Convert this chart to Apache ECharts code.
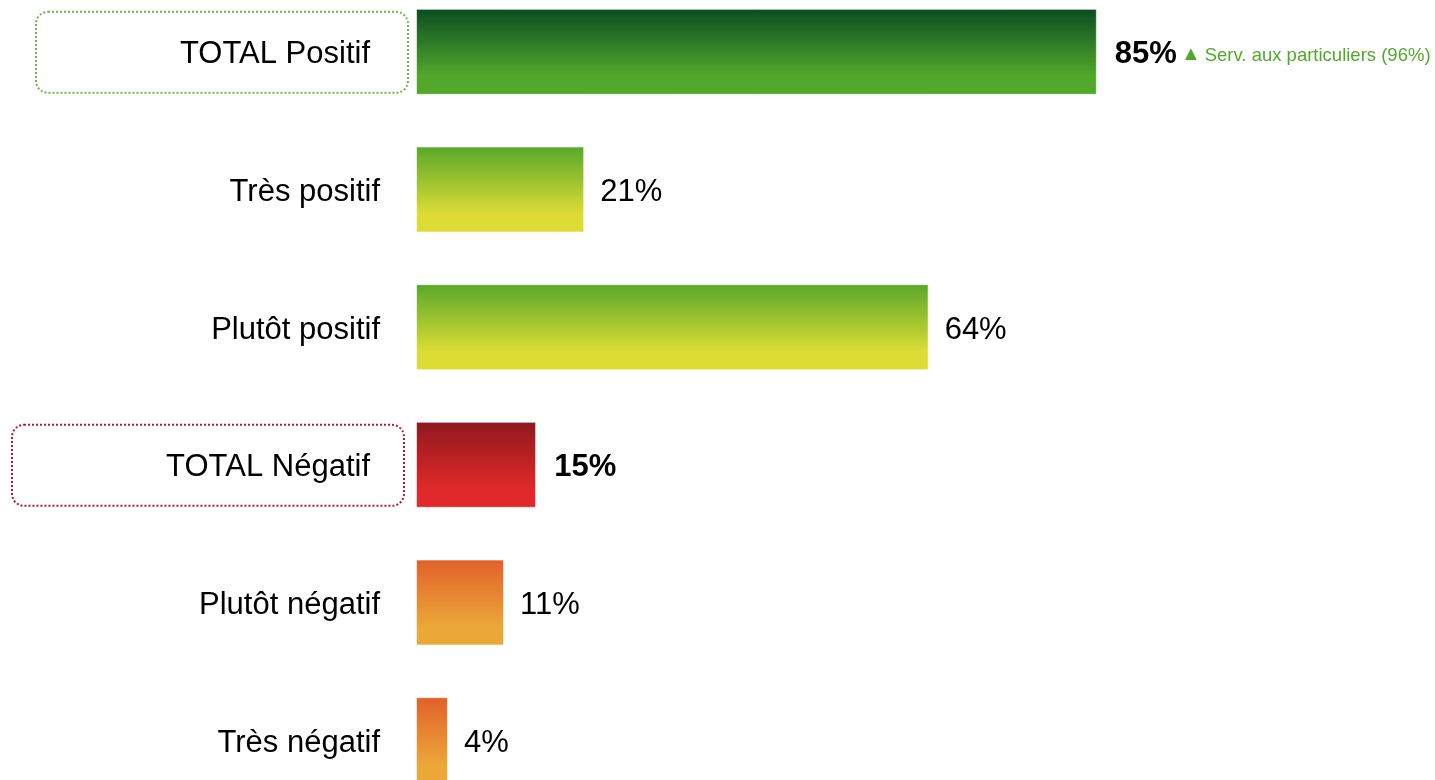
<!DOCTYPE html>
<html><head><meta charset="utf-8">
<script src="https://cdn.jsdelivr.net/npm/echarts@6/dist/echarts.min.js"></script>
<style>html,body{margin:0;padding:0;background:#fff}#c{width:1435px;height:780px}</style>
</head><body><div id="c"></div>
<script>
const categories = ['TOTAL Positif','Très positif','Plutôt positif','TOTAL Négatif','Plutôt négatif','Très négatif'];
const values = [85, 21, 64, 15, 11, 4];
const isTotal = [true, false, false, true, false, false];
const notes = ['Serv. aux particuliers (96%)', '', '', '', '', ''];
const gradients = [
  ['#0a4d22', '#52a82a'],
  ['#58a82a', '#dcdc35'],
  ['#58a82a', '#dcdc35'],
  ['#8e191d', '#e0292a'],
  ['#e2602a', '#eba738'],
  ['#e2602a', '#eba738']
];
const boxColors = ['#6dbb45', null, null, '#b01a35', null, null];

const chart = echarts.init(document.getElementById('c'));
const FONT = '"Liberation Sans", Arial, sans-serif';
const FS = 31;
chart.setOption({
  animation: false,
  grid: { left: 416, top: -17, width: 801, height: 826, containLabel: false, outerBoundsMode: 'none' },
  xAxis: { type: 'value', min: 0, max: 100, show: false },
  yAxis: {
    type: 'category', data: categories, inverse: true,
    axisLine: { show: false }, axisTick: { show: false },
    axisLabel: {
      margin: 36, fontFamily: FONT, fontSize: FS, color: '#000', padding: [6, 0, 0, 0],
      formatter: (v, i) => isTotal[i] ? '{t|' + v + '}' : v,
      rich: { t: { fontFamily: FONT, fontSize: FS, color: '#000', padding: [0, 10, 0, 0] } }
    }
  },
  series: [{
    type: 'bar', barWidth: 86,
    data: values.map((v, i) => ({
      value: v,
      itemStyle: {
        color: new echarts.graphic.LinearGradient(0, 0, 0, 1, [
          { offset: 0, color: gradients[i][0] },
          { offset: 0.78, color: gradients[i][1] },
          { offset: 1, color: gradients[i][1] }
        ]),
        borderColor: 'rgba(255,255,255,0.6)', borderWidth: 1
      }
    })),
    label: {
      show: true, position: 'right', distance: 16, padding: [6, 0, 0, 0],
      fontFamily: FONT, fontSize: FS, color: '#000',
      formatter: p => {
        const i = p.dataIndex;
        let s = isTotal[i] ? '{b|' + p.value + '%}' : p.value + '%';
        if (notes[i]) s += '{tri|▲}{n|' + notes[i] + '}';
        return s;
      },
      rich: {
        b: { fontFamily: FONT, fontSize: FS, fontWeight: 'bold', color: '#000', padding: [0, 0, 0, 2], verticalAlign: 'bottom' },
        tri: { fontFamily: FONT, fontSize: 20, color: '#52a82a', padding: [0, 4, 6, 4], verticalAlign: 'bottom' },
        n: { fontFamily: FONT, fontSize: 18.5, color: '#52a82a', padding: [0, 0, 5, 0], verticalAlign: 'bottom' }
      }
    }
  }]
});

// dotted rounded boxes around total labels
const boxes = [];
const boxSpecs = { 0: { left: 36, right: 408 }, 3: { left: 12, right: 404 } };
categories.forEach((c, i) => {
  if (!boxColors[i]) return;
  const y = chart.convertToPixel({ yAxisIndex: 0 }, c);
  const spec = boxSpecs[i];
  boxes.push({
    type: 'rect', silent: true,
    shape: { x: spec.left, y: y - 40, width: spec.right - spec.left, height: 81, r: 12 },
    style: { fill: 'none', stroke: boxColors[i], lineWidth: 2, lineDash: [2, 2] }
  });
});
chart.setOption({ graphic: boxes });
</script>
</body></html>
